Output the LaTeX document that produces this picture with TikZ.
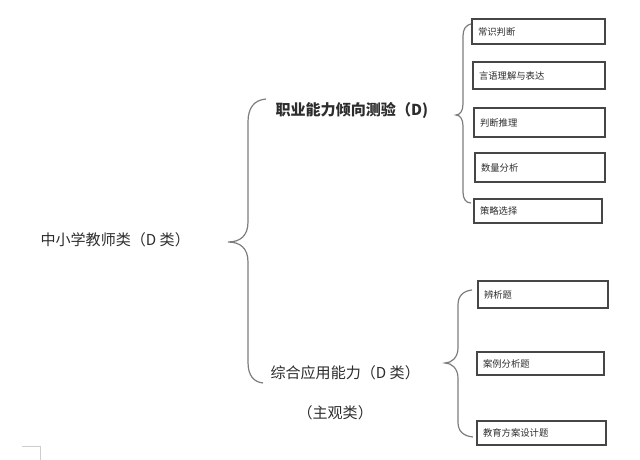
\documentclass[tikz,border=0pt]{standalone}
\usepackage{fontspec}
\newfontfamily\cjk{Noto Sans CJK SC}
\definecolor{inkgray}{RGB}{45,45,45}
\definecolor{bracegray}{RGB}{125,125,125}
\definecolor{boxgray}{RGB}{70,70,70}
\definecolor{markgray}{RGB}{205,205,205}

\tikzset{every picture/.style={line width=0.75pt}}
\tikzset{
  optbox/.style={draw=boxgray, line width=0.8pt, align=left, inner xsep=4.5pt, inner ysep=0pt,
    font=\cjk\fontsize{7}{8}\selectfont, text=inkgray},
  headtxt/.style={anchor=west, inner sep=0pt, font=\cjk\fontsize{11.3}{13}\selectfont, text=inkgray},
  bracepath/.style={draw=bracegray, line width=0.9pt}
}

\begin{document}
\begin{tikzpicture}[x=0.75pt,y=0.75pt,yscale=-1]

\useasboundingbox (0,0) rectangle (640,460);

% headings
\node (jiaoshi) [headtxt] at (40,240) {中小学教师类（D 类）};
\node (zhiye) [headtxt, font=\cjk\bfseries\fontsize{11.3}{13}\selectfont] at (275,110) {职业能力倾向测验（D)};
\node (zonghe) [headtxt] at (270,373) {综合应用能力（D 类）};
\node (zhuguan) [headtxt] at (297,413) {（主观类）};

% option boxes, upper group
\node (changshi) [optbox, text width=90.75pt, minimum height=18.75pt] at (538.5,31.5) {常识判断};
\node (yanyu) [optbox, text width=90pt, minimum height=20.25pt] at (539,75.5) {言语理解与表达};
\node (panduan) [optbox, text width=89.25pt, minimum height=21.75pt] at (539.5,122.5) {判断推理};
\node (shuliang) [optbox, text width=88.5pt, minimum height=21.75pt] at (540,167.5) {数量分析};
\node (celve) [optbox, text width=87pt, minimum height=18pt] at (538,211) {策略选择};

% option boxes, lower group
\node (bianxi) [optbox, text width=88.5pt, minimum height=20.25pt] at (543,294.5) {辨析题};
\node (anli) [optbox, text width=86.25pt, minimum height=17.25pt] at (540.5,363.5) {案例分析题};
\node (jiaoyu) [optbox, text width=87.75pt, minimum height=18pt] at (541.5,433) {教育方案设计题};

% brace ends
\coordinate (mtip) at (228,242);
\coordinate (mtop) at (266,99);
\coordinate (mbot) at (263,383);
\coordinate (atip) at (456,115);
\coordinate (atop) at (471,24);
\coordinate (abot) at (471,203);
\coordinate (btip) at (445,363);
\coordinate (btop) at (472,290);
\coordinate (bbot) at (473,437);

% braces
\draw [bracepath] (mtop) .. controls (254,100) and (248,108) .. (248,122) -- (248,222) .. controls (248,236) and (240,242) .. (mtip) .. controls (240,242) and (248,248) .. (248,262) -- (248,362) .. controls (248,376) and (254,382) .. (mbot);
\draw [bracepath] (atop) .. controls (466,25) and (463,29) .. (463,36) -- (463,104) .. controls (463,111) and (460,115) .. (atip) .. controls (460,115) and (463,119) .. (463,126) -- (463,192) .. controls (463,199) and (466,203) .. (abot);
\draw [bracepath] (btop) .. controls (463,291) and (458,296) .. (458,305) -- (458,348) .. controls (458,357) and (452,363) .. (btip) .. controls (452,363) and (458,369) .. (458,378) -- (458,422) .. controls (458,431) and (463,436) .. (bbot);

% page corner mark
\draw [markgray, line width=0.6pt] (22,446) -- (40,446) -- (40,460);

\end{tikzpicture}
\end{document}
